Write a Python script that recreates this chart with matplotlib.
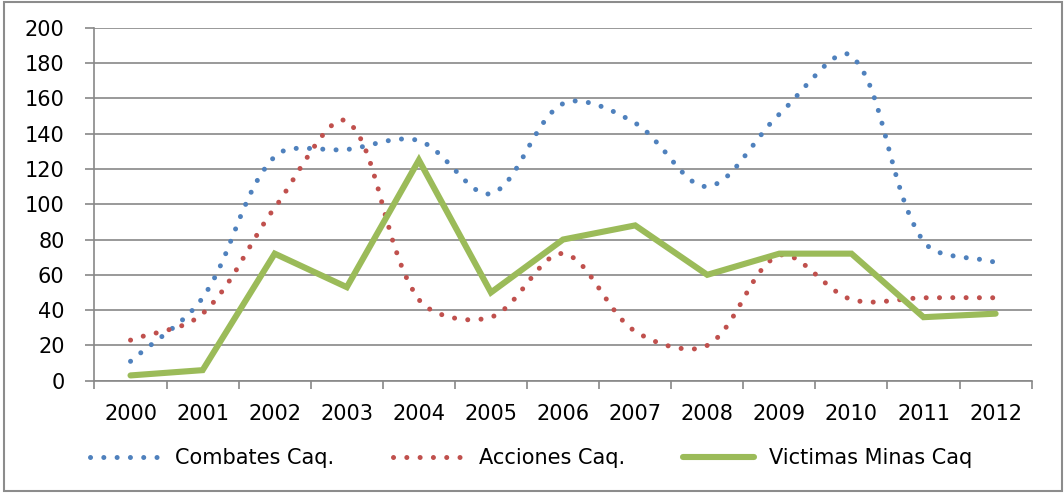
import numpy as np
import matplotlib
matplotlib.use("Agg")
from matplotlib import pyplot as plt
from matplotlib.path import Path
from matplotlib.patches import PathPatch, Rectangle
from matplotlib.lines import Line2D

# datos
years = ["2000", "2001", "2002", "2003", "2004", "2005", "2006",
         "2007", "2008", "2009", "2010", "2011", "2012"]
combates = [11, 47, 127, 131, 136, 106, 157, 146, 110, 151, 184, 79, 67]
acciones = [23, 38, 98, 147, 46, 36, 72, 28, 20, 71, 46, 47, 47]
victimas = [3, 6, 72, 53, 125, 50, 80, 88, 60, 72, 72, 36, 38]

BLUE = "#4F81BD"
RED = "#C0504D"
GREEN = "#9BBB59"
GRID = "#888888"


def smooth_path(xs, ys, sx=72.0, sy=1.765):
    # curva suavizada parecida a la de Excel: Bezier cubicas con tangentes
    # ponderadas por la longitud de los tramos (en pixeles)
    p = np.column_stack([xs, ys]).astype(float)
    ext = np.vstack([p[0], p, p[-1]])
    scale = np.array([sx, sy])

    def dist(a, b):
        return np.hypot(*((b - a) * scale))

    verts = [p[0]]
    codes = [Path.MOVETO]
    for i in range(len(p) - 1):
        p0, p1, p2, p3 = ext[i], ext[i + 1], ext[i + 2], ext[i + 3]
        d01, d12, d23 = dist(p0, p1), dist(p1, p2), dist(p2, p3)
        f1 = d12 / (d01 + d12) if d01 + d12 > 0 else 0.5
        f2 = d12 / (d12 + d23) if d12 + d23 > 0 else 0.5
        c1 = p1 + (p2 - p0) * f1 / 3.0
        c2 = p2 - (p3 - p1) * f2 / 3.0
        verts += [c1, c2, p2]
        codes += [Path.CURVE4] * 3
    return Path(verts, codes)


fig = plt.figure(figsize=(10.64, 4.94), dpi=100)
ax = fig.add_axes([0.0888, 0.2293, 0.9696 - 0.0888, 0.9439 - 0.2293])

x = np.arange(len(years))
dot_lw = 3.6
dot_style = (0, (0.01, 2.65))

for vals, col in [(combates, BLUE), (acciones, RED)]:
    patch = PathPatch(smooth_path(x, vals), facecolor="none", edgecolor=col,
                      lw=dot_lw, linestyle=dot_style, capstyle="round",
                      transform=ax.transData, zorder=3)
    ax.add_patch(patch)

ax.plot(x, victimas, color=GREEN, lw=4.4, solid_capstyle="round",
        solid_joinstyle="miter", zorder=4)

ax.set_xlim(-0.5, 12.5)
ax.set_ylim(0, 200)
ax.set_yticks(np.arange(0, 201, 20))
ax.set_xticks(x)
ax.set_xticklabels(years)
ax.set_xticks(np.arange(-0.5, 13, 1), minor=True)

ax.tick_params(axis="x", which="major", length=0, pad=17, labelsize=15)
ax.tick_params(axis="x", which="minor", length=6, width=1.2, color=GRID,
               direction="out")
ax.tick_params(axis="y", length=6.5, width=1.2, color=GRID, pad=15,
               labelsize=15)
ax.yaxis.grid(True, color=GRID, lw=1.2)
ax.set_axisbelow(True)
for s in ["top", "right"]:
    ax.spines[s].set_visible(False)
for s in ["left", "bottom"]:
    ax.spines[s].set_color(GRID)
    ax.spines[s].set_linewidth(1.2)

handles = [
    Line2D([], [], color=BLUE, lw=dot_lw, linestyle=dot_style,
           dash_capstyle="round"),
    Line2D([], [], color=RED, lw=dot_lw, linestyle=dot_style,
           dash_capstyle="round"),
    Line2D([], [], color=GREEN, lw=4.4, solid_capstyle="round"),
]
fig.legend(handles, ["Combates Caq.", "Acciones Caq.", "Victimas Minas Caq"],
           loc="center", bbox_to_anchor=(0.499, 0.073), ncol=3,
           frameon=False, fontsize=15, handlelength=3.4,
           handletextpad=0.72, columnspacing=2.8)

# borde exterior del grafico
fig.add_artist(Rectangle((0.004, 0.006), 0.994, 0.99, transform=fig.transFigure,
                         fill=False, edgecolor="#8C8C8C", lw=1.5))

fig.savefig("out.png", dpi=100)
